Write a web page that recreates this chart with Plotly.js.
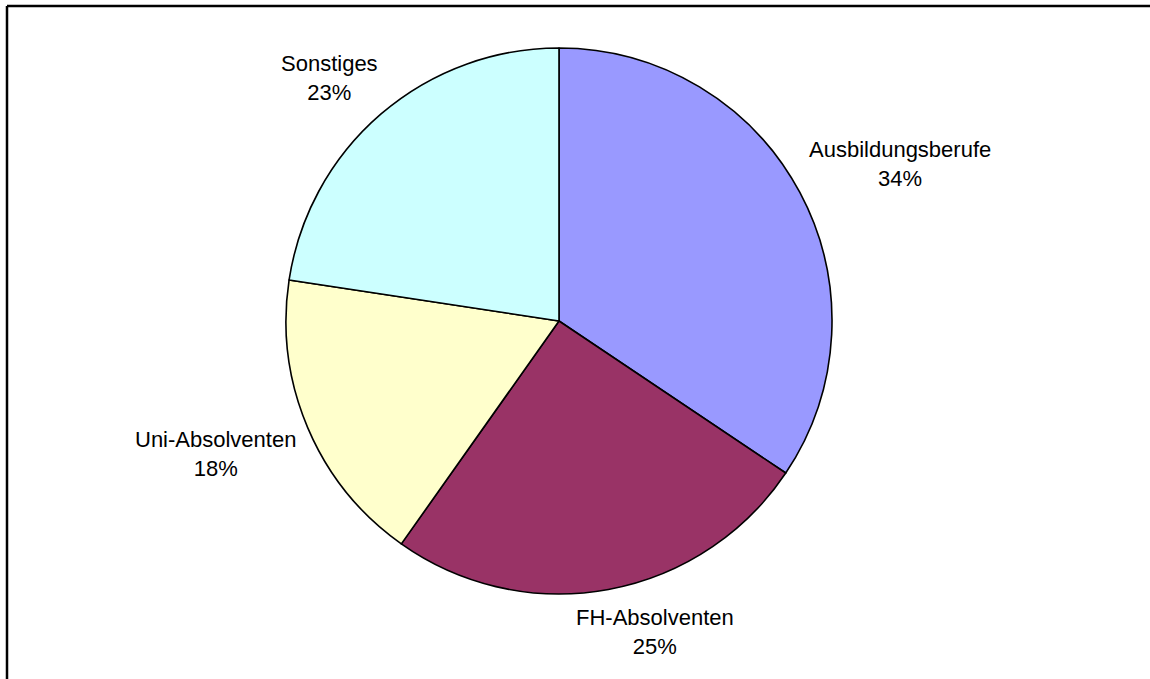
<!DOCTYPE html>
<html>
<head>
<meta charset="utf-8">
<script src="https://cdn.plot.ly/plotly-3.0.1.min.js"></script>
<style>
html,body{margin:0;padding:0;background:#fff;}
#chart{width:1150px;height:679px;}
</style>
</head>
<body>
<div id="chart"></div>
<script>
const categories = ["Ausbildungsberufe", "FH-Absolventen", "Uni-Absolventen", "Sonstiges"];
const shares = [34.4, 25.4, 17.6, 22.6];
const sliceColors = ["#9999FF", "#993366", "#FFFFCC", "#CCFFFF"];

const W = 1150, H = 679;
const cx = 559, cy = 321, r = 273;
const FONT = "Liberation Sans, Arial, sans-serif";
const FS = 22;

const total = shares.reduce((a, b) => a + b, 0);
const pctText = shares.map(v => Math.round(v / total * 100) + "%");

// label placement outside the pie, from the slice mid-angles
const ctx = document.createElement("canvas").getContext("2d");
ctx.font = FS + "px " + FONT;
const gap = 15, halfH = 27.5;
let acc = 0;
const annotations = categories.map((name, i) => {
  const frac = shares[i] / total;
  const mid = (acc + frac / 2) * 2 * Math.PI;
  acc += frac;
  const ux = Math.sin(mid), uy = -Math.cos(mid);
  const halfW = Math.max(ctx.measureText(name).width, ctx.measureText(pctText[i]).width) / 2;
  const s = v => Math.sign(v) * Math.pow(Math.abs(v), 0.35);
  const px = cx + (r + gap) * ux + halfW * s(ux);
  const py = cy + (r + gap) * uy + halfH * s(uy);
  return {
    xref: "paper", yref: "paper",
    x: px / W, y: 1 - py / H,
    xanchor: "center", yanchor: "middle",
    text: name + "<br>" + pctText[i],
    showarrow: false,
    font: {family: FONT, size: FS, color: "#000"},
    align: "center"
  };
});

const trace = {
  type: "pie",
  labels: categories,
  values: shares,
  sort: false,
  direction: "clockwise",
  rotation: 0,
  marker: {colors: sliceColors, line: {color: "#000", width: 1.6}},
  textinfo: "none",
  hoverinfo: "none",
  showlegend: false,
  domain: {
    x: [(cx - r) / W, (cx + r) / W],
    y: [(H - cy - r) / H, (H - cy + r) / H]
  }
};

const layout = {
  width: W, height: H,
  margin: {l: 0, r: 0, t: 0, b: 0},
  paper_bgcolor: "#fff",
  showlegend: false,
  font: {family: FONT, size: FS, color: "#000"},
  annotations: annotations,
  shapes: [
    {type: "line", xref: "paper", yref: "paper", x0: 7 / W, x1: 7 / W, y0: 0, y1: 1 - 6 / H, line: {color: "#000", width: 2.5}},
    {type: "line", xref: "paper", yref: "paper", x0: 7 / W, x1: 1, y0: 1 - 6 / H, y1: 1 - 6 / H, line: {color: "#000", width: 2.5}}
  ]
};

Plotly.newPlot("chart", [trace], layout, {staticPlot: true, displayModeBar: false});
</script>
</body>
</html>
